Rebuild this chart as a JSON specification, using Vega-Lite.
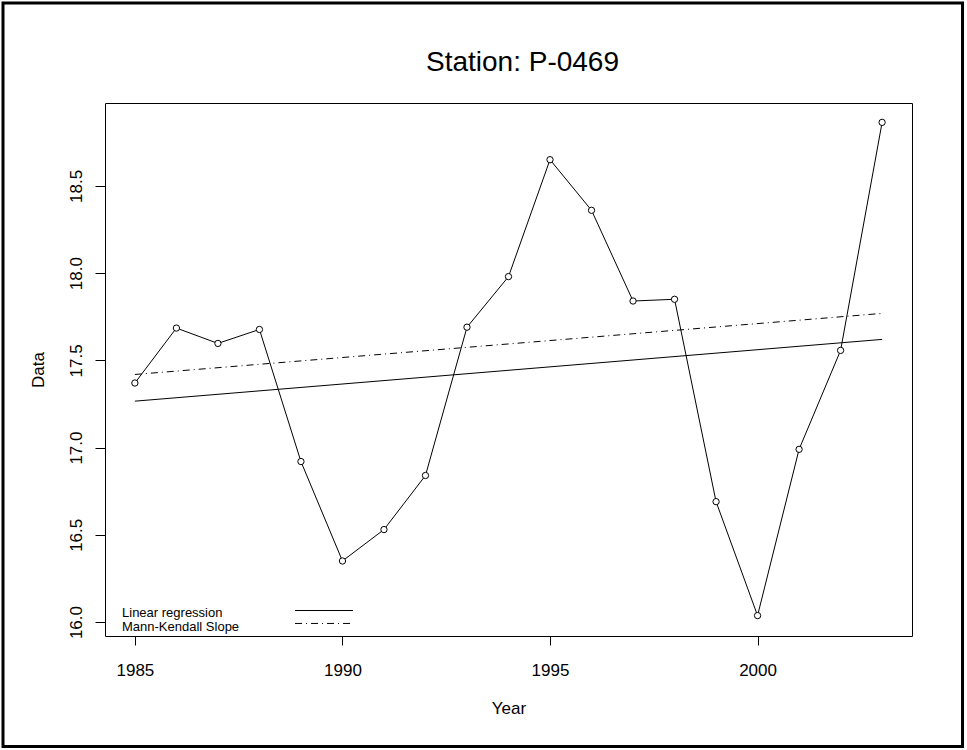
{
  "$schema": "https://vega.github.io/schema/vega-lite/v6.json",
  "width": 807,
  "height": 533,
  "autosize": {"type": "none"},
  "padding": {"left": 105, "top": 103, "right": 55, "bottom": 114},
  "background": "white",
  "config": {
    "font": "Liberation Sans",
    "view": {"stroke": "black", "strokeWidth": 1},
    "axis": {
      "domain": false,
      "grid": false,
      "tickColor": "black",
      "tickSize": 9,
      "labelColor": "black",
      "labelFontSize": 17,
      "labelFont": "Liberation Sans",
      "titleFont": "Liberation Sans",
      "titleFontSize": 17,
      "titleFontWeight": "normal",
      "titleColor": "black"
    }
  },
  "title": {
    "text": "Station: P-0469",
    "font": "Liberation Sans",
    "fontSize": 28,
    "fontWeight": "normal",
    "color": "black",
    "anchor": "middle",
    "frame": "group",
    "dx": 14,
    "offset": -97,
    "baseline": "alphabetic"
  },
  "datasets": {
    "series": [
      {"year": 1985, "value": 17.37},
      {"year": 1986, "value": 17.685},
      {"year": 1987, "value": 17.597},
      {"year": 1988, "value": 17.677},
      {"year": 1989, "value": 16.92},
      {"year": 1990, "value": 16.35},
      {"year": 1991, "value": 16.53},
      {"year": 1992, "value": 16.84},
      {"year": 1993, "value": 17.69},
      {"year": 1994, "value": 17.98},
      {"year": 1995, "value": 18.65},
      {"year": 1996, "value": 18.36},
      {"year": 1997, "value": 17.84},
      {"year": 1998, "value": 17.85},
      {"year": 1999, "value": 16.69},
      {"year": 2000, "value": 16.037},
      {"year": 2001, "value": 16.99},
      {"year": 2002, "value": 17.557},
      {"year": 2003, "value": 18.864}
    ],
    "trend": [
      {"line": "Linear regression", "year": 1985, "value": 17.266},
      {"line": "Linear regression", "year": 2003, "value": 17.62},
      {"line": "Mann-Kendall Slope", "year": 1985, "value": 17.419},
      {"line": "Mann-Kendall Slope", "year": 2003, "value": 17.769}
    ],
    "legend": [
      {"label": "Linear regression", "tx": 1984.69, "ty": 16.049, "x1": 1988.857, "x2": 1990.254, "ly": 16.066},
      {"label": "Mann-Kendall Slope", "tx": 1984.69, "ty": 15.969, "x1": 1988.857, "x2": 1990.254, "ly": 15.992}
    ],
    "frame": [
      {"x1": 1981.823, "x2": 2004.937, "y1": 15.287, "y2": 19.548}
    ]
  },
  "layer": [
    {
      "data": {"name": "series"},
      "mark": {"type": "line", "color": "black", "strokeWidth": 1},
      "encoding": {
        "x": {
          "field": "year",
          "type": "quantitative",
          "scale": {"domain": [1984.28, 2003.72], "nice": false, "zero": false},
          "axis": {"values": [1985, 1990, 1995, 2000], "format": "d", "title": "Year", "labelPadding": 17, "titlePadding": 22, "labelFlush": false}
        },
        "y": {
          "field": "value",
          "type": "quantitative",
          "scale": {"domain": [15.92, 18.975], "nice": false, "zero": false},
          "axis": {"values": [16, 16.5, 17, 17.5, 18, 18.5], "format": ".1f", "title": "Data", "labelAngle": 270, "labelPadding": 10, "tickSize": 10, "titlePadding": 20, "labelFlush": false}
        }
      }
    },
    {
      "data": {"name": "series"},
      "mark": {"type": "point", "shape": "circle", "filled": false, "color": "black", "size": 40, "strokeWidth": 1, "fill": "white", "fillOpacity": 1},
      "encoding": {
        "x": {"field": "year", "type": "quantitative"},
        "y": {"field": "value", "type": "quantitative"}
      }
    },
    {
      "data": {"name": "trend"},
      "transform": [{"filter": "datum.line === 'Linear regression'"}],
      "mark": {"type": "line", "color": "black", "strokeWidth": 1},
      "encoding": {
        "x": {"field": "year", "type": "quantitative"},
        "y": {"field": "value", "type": "quantitative"}
      }
    },
    {
      "data": {"name": "trend"},
      "transform": [{"filter": "datum.line === 'Mann-Kendall Slope'"}],
      "mark": {"type": "line", "color": "black", "strokeWidth": 1, "strokeDash": [7, 4, 1, 4]},
      "encoding": {
        "x": {"field": "year", "type": "quantitative"},
        "y": {"field": "value", "type": "quantitative"}
      }
    },
    {
      "data": {"name": "legend"},
      "mark": {"type": "text", "align": "left", "baseline": "middle", "fontSize": 13, "color": "black", "font": "Liberation Sans"},
      "encoding": {
        "x": {"field": "tx", "type": "quantitative"},
        "y": {"field": "ty", "type": "quantitative"},
        "text": {"field": "label"}
      }
    },
    {
      "data": {"name": "legend"},
      "transform": [{"filter": "datum.label === 'Linear regression'"}],
      "mark": {"type": "rule", "color": "black", "strokeWidth": 1},
      "encoding": {
        "x": {"field": "x1", "type": "quantitative"},
        "x2": {"field": "x2"},
        "y": {"field": "ly", "type": "quantitative"}
      }
    },
    {
      "data": {"name": "legend"},
      "transform": [{"filter": "datum.label === 'Mann-Kendall Slope'"}],
      "mark": {"type": "rule", "color": "black", "strokeWidth": 1, "strokeDash": [7, 4, 1, 4]},
      "encoding": {
        "x": {"field": "x1", "type": "quantitative"},
        "x2": {"field": "x2"},
        "y": {"field": "ly", "type": "quantitative"}
      }
    },
    {
      "data": {"name": "frame"},
      "mark": {"type": "rect", "fill": "white", "fillOpacity": 0, "stroke": "black", "strokeWidth": 3, "clip": false},
      "encoding": {
        "x": {"field": "x1", "type": "quantitative"},
        "x2": {"field": "x2"},
        "y": {"field": "y1", "type": "quantitative"},
        "y2": {"field": "y2"}
      }
    }
  ]
}
